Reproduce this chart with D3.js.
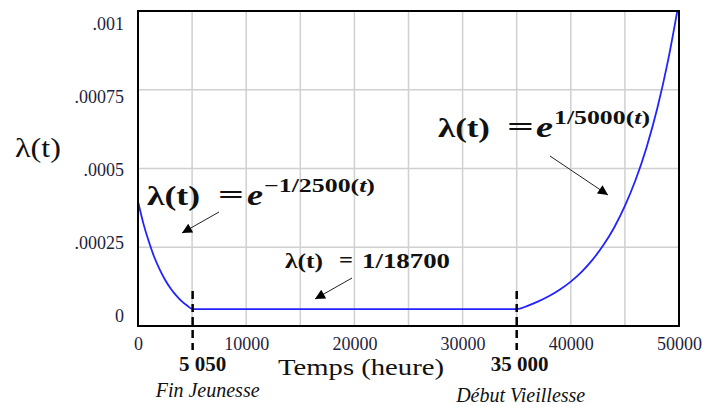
<!DOCTYPE html>
<html>
<head>
<meta charset="utf-8">
<script src="https://cdn.jsdelivr.net/npm/d3@7"></script>
<style>
  html, body { margin: 0; padding: 0; background: #fff; }
  svg { display: block; }
</style>
</head>
<body>
<svg id="chart" width="703" height="407"></svg>
<script>
// ---- data ----
const timeHours = [0, 500, 1000, 1500, 2000, 2500, 3000, 3500, 4000, 4500, 5050,
  10000, 15000, 20000, 25000, 30000, 35000,
  36000, 37000, 38000, 39000, 40000, 41000, 42000, 43000, 44000, 45000,
  46000, 47000, 48000, 49000, 50000];
const failureRate = [0.000395, 0.000325, 0.000268, 0.000219, 0.00018, 0.000147, 0.00012, 0.000098, 0.00008, 0.000066, 0.0000535,
  0.0000535, 0.0000535, 0.0000535, 0.0000535, 0.0000535, 0.0000535,
  0.000064, 0.000078, 0.000095, 0.000116, 0.000141, 0.000172, 0.00021, 0.000256, 0.000312, 0.000381,
  0.000465, 0.000567, 0.000692, 0.000845, 0.00103];
const xTickValues = [0, 10000, 20000, 30000, 40000, 50000];
const xGridValues = [5000, 10000, 15000, 20000, 25000, 30000, 35000, 40000, 45000];
const yTickValues = [0, 0.00025, 0.0005, 0.00075, 0.001];
const yTickLabels = ["0", ".00025", ".0005", ".00075", ".001"];
const markerTimes = [5050, 35000];
const markerLabels = ["5 050", "35 000"];
const phaseLabels = ["Fin Jeunesse", "Début Vieillesse"];

// ---- layout ----
const svg = d3.select("#chart");
const x = d3.scaleLinear().domain([0, 50000]).range([138, 679]);
const y = d3.scaleLinear().domain([0, 0.001]).range([326, 11]);
// tick labels in the reference are spread slightly differently from gridlines
const yLab = d3.scaleLinear().domain([0, 0.001]).range([315.5, 24]);

const tickColor = "#1e1e40";
const serif = "Liberation Serif";

// gridlines
svg.append("g").selectAll("line").data(xGridValues).join("line")
  .attr("x1", d => x(d)).attr("x2", d => x(d))
  .attr("y1", y(0)).attr("y2", y(0.001))
  .attr("stroke", "#d0d0d0").attr("stroke-width", 1.5);
svg.append("g").selectAll("line").data(yTickValues.slice(1, -1)).join("line")
  .attr("x1", x(0)).attr("x2", x(50000))
  .attr("y1", d => y(d)).attr("y2", d => y(d))
  .attr("stroke", "#d0d0d0").attr("stroke-width", 1.5);

// curve
svg.append("clipPath").attr("id", "clip").append("rect")
  .attr("x", x(0)).attr("y", y(0.001)).attr("width", x(50000) - x(0)).attr("height", y(0) - y(0.001));
const line = d3.line().x((d, i) => x(timeHours[i])).y(d => y(d)).curve(d3.curveMonotoneX);
svg.append("path").datum(failureRate)
  .attr("d", line).attr("fill", "none")
  .attr("stroke", "#2323ff").attr("stroke-width", 1.8)
  .attr("clip-path", "url(#clip)");

// frame
svg.append("rect")
  .attr("x", x(0)).attr("y", y(0.001)).attr("width", x(50000) - x(0)).attr("height", y(0) - y(0.001))
  .attr("fill", "none").attr("stroke", "#000").attr("stroke-width", 2);

// x axis labels
const xAxis = d3.axisBottom(x).tickValues(xTickValues).tickSize(0).tickFormat(d3.format("d"));
const gx = svg.append("g").attr("transform", "translate(0,334)").call(xAxis);
gx.attr("font-family", serif).attr("font-size", 18);
gx.select(".domain").remove();
gx.selectAll("text").attr("font-family", serif).attr("font-size", 18).attr("fill", tickColor).attr("dy", "0.71em");

// y axis labels
const yAxis = d3.axisLeft(yLab).tickValues(yTickValues).tickSize(0)
  .tickFormat((d, i) => yTickLabels[i]);
const gy = svg.append("g").attr("transform", "translate(124,0)").call(yAxis);
gy.attr("font-family", serif).attr("font-size", 18);
gy.select(".domain").remove();
gy.selectAll("text").attr("font-family", serif).attr("font-size", 18).attr("fill", tickColor).attr("x", 0);

// axis titles
svg.append("text").attr("x", 278).attr("y", 375)
  .attr("font-family", serif).attr("font-size", 24).attr("textLength", 166).attr("lengthAdjust", "spacingAndGlyphs")
  .attr("fill", "#111").text("Temps (heure)");
svg.append("text").attr("x", 15).attr("y", 157)
  .attr("font-family", serif).attr("font-size", 27).attr("textLength", 46).attr("lengthAdjust", "spacingAndGlyphs")
  .attr("fill", "#111").text("λ(t)");

// dashed markers
svg.append("g").selectAll("line").data(markerTimes).join("line")
  .attr("x1", d => x(d)).attr("x2", d => x(d))
  .attr("y1", 291).attr("y2", 350)
  .attr("stroke", "#000").attr("stroke-width", 2.5).attr("stroke-dasharray", "8,5");
svg.append("g").selectAll("text").data(markerTimes).join("text")
  .attr("x", (d, i) => x(d) + (i === 0 ? 10 : 3)).attr("y", 371).attr("text-anchor", "middle")
  .attr("font-family", serif).attr("font-weight", "bold").attr("font-size", 21)
  .attr("fill", "#111").text((d, i) => markerLabels[i]);
svg.append("g").selectAll("text").data(markerTimes).join("text")
  .attr("x", (d, i) => x(d) + (i === 0 ? 15 : 4)).attr("y", (d, i) => i === 0 ? 397 : 402)
  .attr("text-anchor", "middle")
  .attr("font-family", serif).attr("font-style", "italic").attr("font-size", 20)
  .attr("fill", "#111").text((d, i) => phaseLabels[i]);

// arrow marker
svg.append("defs").append("marker").attr("id", "arr")
  .attr("viewBox", "0 0 10 10").attr("refX", 10).attr("refY", 5)
  .attr("markerWidth", 12).attr("markerHeight", 10).attr("markerUnits", "userSpaceOnUse")
  .attr("orient", "auto")
  .append("path").attr("d", "M0,0 L10,5 L0,10 z").attr("fill", "#000");

function arrow(x1, y1, x2, y2) {
  svg.append("line").attr("x1", x1).attr("y1", y1).attr("x2", x2).attr("y2", y2)
    .attr("stroke", "#222").attr("stroke-width", 1).attr("marker-end", "url(#arr)");
}
function piece(px, py, size, txt, width, italic) {
  const t = svg.append("text").attr("x", px).attr("y", py)
    .attr("font-family", serif).attr("font-weight", "bold").attr("font-size", size)
    .attr("font-style", italic ? "italic" : "normal").attr("fill", "#111").text(txt);
  if (width) t.attr("textLength", width).attr("lengthAdjust", "spacingAndGlyphs");
}
function sup(px, py, size, pre, width) {
  const t = svg.append("text").attr("x", px).attr("y", py)
    .attr("font-family", serif).attr("font-weight", "bold").attr("font-size", size).attr("fill", "#111")
    .attr("textLength", width).attr("lengthAdjust", "spacingAndGlyphs");
  t.append("tspan").text(pre + "(");
  t.append("tspan").attr("font-style", "italic").text("t");
  t.append("tspan").text(")");
}

// annotation 1: decay
piece(147, 205, 28, "λ(t)", 53);
piece(218, 204, 28, "=", 26);
piece(247, 205, 30, "e", 16, true);
sup(264, 192, 19, "−1/2500", 111);
arrow(219, 212, 182, 233);

// annotation 2: constant
piece(285, 268, 20, "λ(t)", 38);
piece(339, 267, 20, "=", 14);
piece(362, 268, 20, "1/18700", 88);
arrow(352, 278, 315, 299);

// annotation 3: wear-out
piece(438, 137, 28, "λ(t)", 52);
piece(507, 136, 28, "=", 27);
piece(536, 137, 30, "e", 17, true);
sup(554, 124, 19, "1/5000", 96);
arrow(550, 156, 608, 195);
</script>
</body>
</html>
